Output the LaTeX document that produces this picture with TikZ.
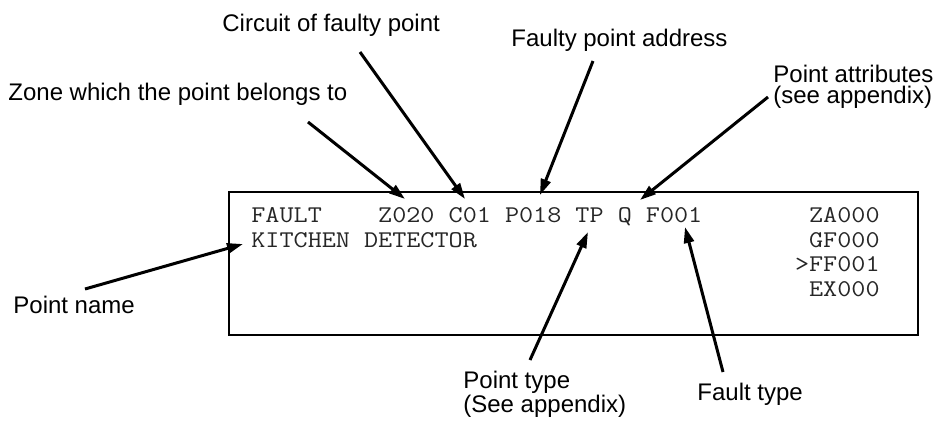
\documentclass[tikz,border=0pt]{standalone}
\usepackage{fontspec}
\setmainfont{Liberation Sans}
\setmonofont{Latin Modern Mono}[FakeStretch=1.14]
\usetikzlibrary{arrows.meta}

\begin{document}
\begin{tikzpicture}[x=0.5pt, y=-0.5pt,
    lbl/.style={anchor=base west, inner sep=0, align=left, font=\fontsize{12}{10.5}\selectfont},
    scr/.style={anchor=base west, inner sep=0, text=black!85, font=\ttfamily\fontsize{12}{12}\selectfont},
    pointer/.style={line width=1.5pt, -{Triangle[length=8pt, width=5pt]}}]
  \useasboundingbox (0,0) rectangle (933,420);

  % Screen
  \draw (228,191) node(screen) [draw, line width=1pt, anchor=north west, inner sep=0,
    minimum width=344.5pt, minimum height=71.5pt] {};
  \draw (251,222) node(line1) [scr] {FAULT\ \ \ \ Z020 C01 P018 TP Q F001};
  \draw (251,247) node(line2) [scr] {KITCHEN DETECTOR};
  \draw (880,222) node(za) [scr, anchor=base east] {ZA000};
  \draw (880,247) node(gf) [scr, anchor=base east] {GF000};
  \draw (880,271) node(ff) [scr, anchor=base east] {>FF001};
  \draw (880,296) node(ex) [scr, anchor=base east] {EX000};

  % Labels (base of a two-line label is its last line)
  \draw (8,100)   node(zone)  [lbl] {Zone which the point belongs to};
  \draw (222,31)  node(circ)  [lbl] {Circuit of faulty point};
  \draw (511,46)  node(addr)  [lbl] {Faulty point address};
  \draw (773,103) node(attr)  [lbl] {Point attributes\\(see appendix)};
  \draw (13,313)  node(pname) [lbl] {Point name};
  \draw (463,412) node(ptype) [lbl, font=\fontsize{12}{12}\selectfont] {Point type\\(See appendix)};
  \draw (697,400) node(ftype) [lbl] {Fault type};

  % Arrow ends
  \coordinate (zoneS)  at (308,122); \coordinate (zoneT)  at (405,199);
  \coordinate (circS)  at (360,52);  \coordinate (circT)  at (465,199);
  \coordinate (addrS)  at (593,61);  \coordinate (addrT)  at (540,195);
  \coordinate (attrS)  at (768,97);  \coordinate (attrT)  at (640,200);
  \coordinate (pnameS) at (85,289);  \coordinate (pnameT) at (243,244);
  \coordinate (ptypeS) at (530,360); \coordinate (ptypeT) at (588,232);
  \coordinate (ftypeS) at (723,372); \coordinate (ftypeT) at (685,227);

  % Arrows
  \path[pointer] (zoneS) edge (zoneT);
  \path[pointer] (circS) edge (circT);
  \path[pointer] (addrS) edge (addrT);
  \path[pointer] (attrS) edge (attrT);
  \path[pointer] (pnameS) edge (pnameT);
  \path[pointer] (ptypeS) edge (ptypeT);
  \path[pointer] (ftypeS) edge (ftypeT);

\end{tikzpicture}
\end{document}
